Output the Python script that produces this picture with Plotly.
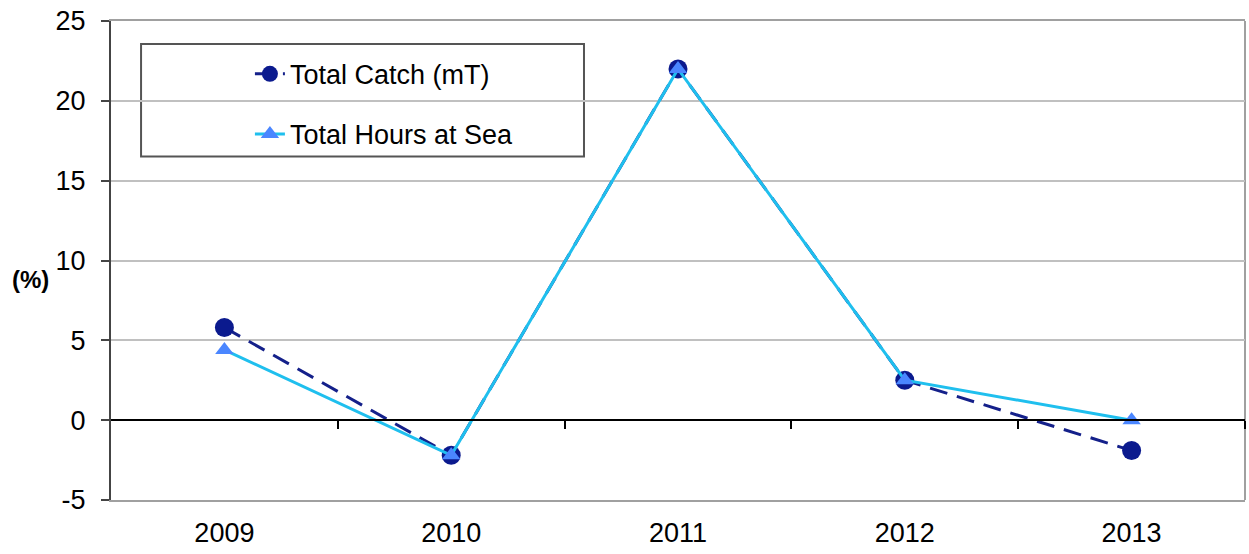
import plotly.graph_objects as go

years = ["2009", "2010", "2011", "2012", "2013"]
total_catch = [5.8, -2.2, 22.0, 2.5, -1.9]
hours_at_sea = [4.4, -2.2, 22.0, 2.5, 0.0]
y_ticks = [-5, 0, 5, 10, 15, 20, 25]
y_labels = ["-5", "0", "5", "10", "15", "20", "25"]

FONT = "Liberation Sans, Arial, sans-serif"

fig = go.Figure()
fig.add_trace(go.Scatter(
    x=years, y=total_catch, mode="lines+markers", name="Total Catch (mT)",
    legendgroup="a",
    line=dict(color="#14208a", width=3, dash="18px,10px"),
    marker=dict(symbol="circle", size=19, color="#0b1a8e"),
))
fig.add_trace(go.Scatter(
    x=years, y=hours_at_sea, mode="lines+markers", name="Total Hours at Sea",
    legendgroup="b",
    line=dict(color="#1fbfee", width=3),
    marker=dict(symbol="triangle-up", size=16, color="#4a86ff"),
))
# invisible trace so the zero-line axis (xaxis2) gets drawn
fig.add_trace(go.Scatter(x=[0], y=[0], xaxis="x2", mode="markers",
                         marker=dict(opacity=0), showlegend=False, hoverinfo="skip"))

fig.update_layout(
    width=1249, height=554,
    margin=dict(l=111, r=4, t=21, b=54, autoexpand=False),
    paper_bgcolor="white", plot_bgcolor="white",
    font=dict(family=FONT, size=27, color="black"),
    showlegend=True,
    legend=dict(
        x=0.1225, y=0.94, xanchor="left", yanchor="top",
        bgcolor="rgba(0,0,0,0)", borderwidth=0,
        font=dict(size=27),
        tracegroupgap=22, traceorder="grouped",
    ),
    xaxis=dict(
        type="category", range=[-0.5, 4.5], showgrid=False,
        showline=True, linecolor="#a0a0a0", linewidth=2, mirror=True,
        ticks="", ticklabelstandoff=8, automargin=False,
    ),
    xaxis2=dict(
        overlaying="x", anchor="free", position=1 / 6,
        range=[-0.5, 4.5], tickvals=[0.5, 1.5, 2.5, 3.5, 4.5],
        showticklabels=False, showgrid=False, zeroline=False,
        showline=True, linecolor="black", linewidth=1.5,
        ticks="outside", ticklen=8, tickcolor="black", tickwidth=1.5,
        automargin=False,
    ),
    yaxis=dict(
        range=[-5, 25], tickvals=y_ticks, ticktext=y_labels,
        showgrid=True, gridcolor="#c0c0c0", gridwidth=1.5,
        zeroline=False,
        showline=True, linecolor="#444444", linewidth=2,
        ticks="outside", ticklen=8, tickcolor="#444444", tickwidth=1.5,
        ticklabelstandoff=10, automargin=False,
    ),
)

# right border of the plot frame
fig.add_shape(type="line", xref="paper", yref="paper", x0=1, x1=1, y0=0, y1=1,
              line=dict(color="#a0a0a0", width=2), layer="below")
# legend frame
fig.add_shape(type="rect", xref="paper", yref="paper",
              x0=0.0265, x1=0.4171, y0=0.717, y1=0.952,
              line=dict(color="#555555", width=2), fillcolor="white", layer="below")

fig.add_annotation(text="<b>(%)</b>", xref="paper", yref="paper",
                   x=-0.071, y=0.46, xanchor="center", yanchor="middle",
                   showarrow=False, font=dict(size=24))

fig.write_html("out.html", config={"displayModeBar": False},
               post_script="document.body.style.margin='0';")
